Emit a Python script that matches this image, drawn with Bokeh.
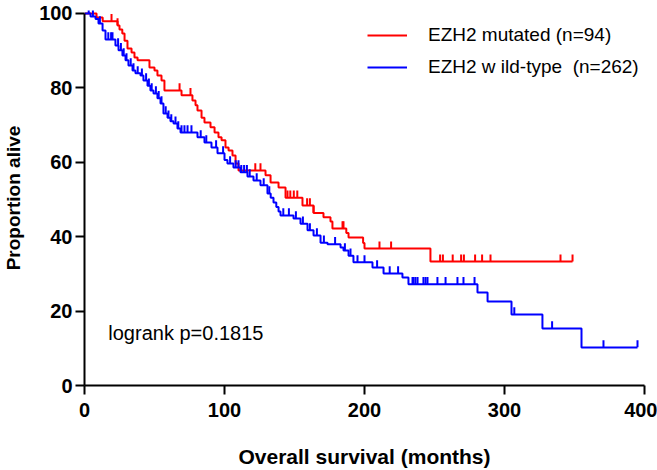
import numpy as np
from bokeh.plotting import figure
from bokeh.models import Range1d, FixedTicker, Label, Legend, LegendItem
from bokeh.embed import file_html
from bokeh.resources import INLINE

# ---- data (months, percent alive) ----
mut_times = [8.6, 13, 23.6, 25, 27, 28.6, 30.7, 33.6, 35.7, 37.9, 46.4, 50, 52.1, 55, 57.1,
             69.3, 77.1, 79.3, 80.7, 83.6, 85.7, 90, 92.9, 95.7, 97.9, 100.7, 102.9, 105.7,
             107.9, 110, 129.3, 132.9, 138.6, 143.6, 155.7, 163.6, 170.7, 175.7, 177.1,
             187, 188.6, 199, 200, 247.1]
mut_surv = [98.9, 97.9, 96.8, 95.7, 94.6, 92.7, 90.6, 89.5, 88.2, 87.4, 85.5, 84.7, 83.3, 82.0, 79.3,
            78.0, 76.6, 75.3, 73.9, 72.0, 70.7, 69.4, 68.0, 66.7, 65.9, 64.0, 63.2, 61.8,
            59.7, 57.8, 56.5, 54.6, 53.2, 50.5, 48.4, 46.4, 45.2, 44.1, 42.2,
            41.0, 39.8, 38.3, 36.8, 33.3]
mut_end = 348.6
mut_censored = [19.3, 23.6, 67.9, 75.7, 122, 125.7, 145, 147, 149.5, 152, 159, 161, 163.6,
                184.3, 185, 210.7, 219, 254, 256, 263, 269, 271, 279, 284, 290, 340, 348.6]

wt_times = [4.3, 7.9, 10, 12.9, 15, 22.1, 24.3, 27.1, 29.3, 31.4, 34.3, 36.4, 40, 42.1, 45,
            47.1, 49.3, 52.1, 54.3, 56.4, 59.3, 61.4, 63.6, 66.4, 68.6, 80.7, 85.7, 90.7,
            95, 100, 102.1, 106.4, 111.4, 116.4, 120.7, 125.7, 130.7, 133, 135, 137, 138.6,
            140, 149.3, 154.3, 159.3, 163.6, 168.6, 173.6, 182.9, 185, 188.6, 192.1, 205.7,
            213.6, 227.1, 231.4, 280.7, 287.9, 305, 327.1, 355]
wt_surv = [99.2, 98.5, 97.3, 95.4, 93.0, 91.4, 90.1, 88.7, 87.4, 86.0, 84.7, 83.9, 83.3, 82.0, 80.6,
           79.3, 78.5, 77.2, 75.8, 73.1, 72.0, 71.0, 70.4, 69.1, 68.0, 66.7, 65.3, 64.0,
           62.4, 60.6, 59.7, 58.6, 57.3, 56.2, 55.1, 53.8, 51.6, 50.5, 49.2, 48.0, 46.8,
           45.7, 44.9, 43.5, 41.7, 40.3, 38.4, 38.0, 37.1, 36.3, 34.9, 33.1, 31.7,
           30.1, 29.0, 27.2, 25.0, 22.6, 19.1, 15.3, 10.2]
wt_end = 395
wt_censored = [3, 6, 11, 17, 19, 20, 24, 26, 28, 30, 33, 35, 38, 41, 44, 46, 48, 51, 53, 55,
               58, 60, 62, 65, 67, 69.3, 71.4, 73.6, 76.4, 83, 87, 94, 99, 104, 108, 110,
               112, 114, 116, 118, 123, 128, 132, 142, 146, 151, 156, 161, 166, 171, 179,
               186, 190, 195, 200, 209, 218, 224, 234.3, 235, 236.4, 237.9, 242.1, 243.6,
               245, 252.1, 257.9, 266.4, 270.7, 278.6, 307, 334, 370.7, 395]

x_ticks = [0, 100, 200, 300, 400]
y_ticks = [0, 20, 40, 60, 80, 100]

RED = "#FF0000"
BLUE = "#0000FF"
FONT = "Liberation Sans"

p = figure(width=657, height=470, output_backend="svg", toolbar_location=None,
           x_range=Range1d(0, 400), y_range=Range1d(0, 100.8),
           min_border_left=84, min_border_right=13, min_border_top=10, min_border_bottom=85)
p.grid.visible = False
p.outline_line_color = None
p.background_fill_color = "white"
p.border_fill_color = "white"


def km_xy(times, surv, end):
    xs = [0.0] + list(times) + [end]
    ys = [100.0] + list(surv) + [surv[-1]]
    return xs, ys


def censor_levels(times, surv, cens):
    t = np.array(times)
    s = np.array(surv)
    idx = np.searchsorted(t, np.array(cens), side="right") - 1
    return [100.0 if i < 0 else float(s[i]) for i in idx]


TICK_H = 1.0  # data-unit offset so the censor mark rises above the curve

lines = {}
for name, times, surv, end, cens, col in [
    ("mut", mut_times, mut_surv, mut_end, mut_censored, RED),
    ("wt", wt_times, wt_surv, wt_end, wt_censored, BLUE),
]:
    xs, ys = km_xy(times, surv, end)
    lines[name] = p.step(xs, ys, mode="after", line_color=col, line_width=2)
    lev = censor_levels(times, surv, cens)
    p.scatter(cens, [v + TICK_H for v in lev], marker="dash", angle=np.pi / 2,
              size=7, line_color=col, line_width=2)

legend = Legend(items=[
    LegendItem(label="EZH2 mutated (n=94)", renderers=[lines["mut"]]),
    LegendItem(label="EZH2 w ild-type  (n=262)", renderers=[lines["wt"]]),
], location=(283, 307))
legend.glyph_width = 40
legend.glyph_height = 20
legend.label_standoff = 21
legend.label_text_font = FONT
legend.label_text_font_size = "19px"
legend.label_text_color = "black"
legend.spacing = 10
legend.padding = 0
legend.margin = 0
legend.border_line_color = None
legend.background_fill_alpha = 0
p.add_layout(legend)

p.add_layout(Label(x=17, y=14, text="logrank p=0.1815", text_baseline="middle",
                   text_font=FONT, text_font_size="20px", text_color="black"))

for ax in (p.xaxis[0], p.yaxis[0]):
    ax.axis_line_width = 2
    ax.axis_line_color = "black"
    ax.major_tick_line_width = 2
    ax.major_tick_line_color = "black"
    ax.major_tick_out = 9
    ax.major_tick_in = 0
    ax.minor_tick_out = 0
    ax.minor_tick_in = 0
    ax.major_label_text_font = FONT
    ax.major_label_text_font_style = "bold"
    ax.major_label_text_font_size = "20px"
    ax.major_label_text_color = "black"
    ax.axis_label_text_font = FONT
    ax.axis_label_text_font_style = "bold"
    ax.axis_label_text_color = "black"

p.xaxis.axis_label_text_font_size = "21px"
p.yaxis.axis_label_text_font_size = "19px"
p.xaxis.ticker = FixedTicker(ticks=x_ticks)
p.yaxis.ticker = FixedTicker(ticks=y_ticks)
p.xaxis.bounds = (0, 400)
p.yaxis.bounds = (0, 100)
p.xaxis.axis_label = "Overall survival (months)"
p.yaxis.axis_label = "Proportion alive"
p.xaxis.major_label_standoff = 8
p.yaxis.major_label_standoff = 3
p.xaxis.axis_label_standoff = 25
p.yaxis.axis_label_standoff = 12

open("out.html", "w").write(file_html(p, INLINE))
